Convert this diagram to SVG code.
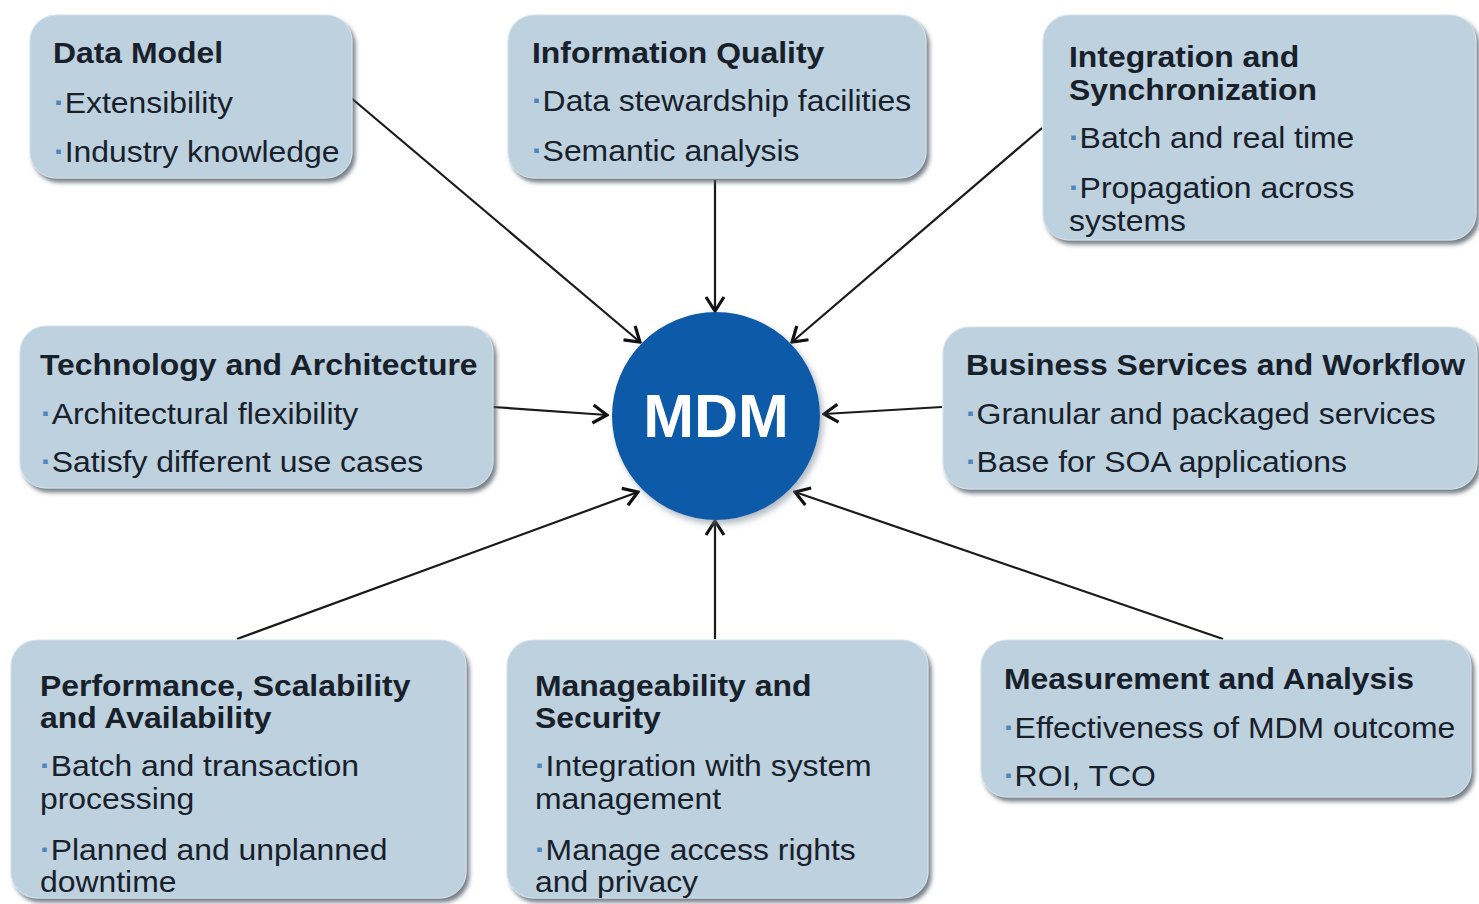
<svg xmlns="http://www.w3.org/2000/svg" width="1479" height="904" viewBox="0 0 1479 904">
  <defs>
    <filter id="shadow" x="-10%" y="-10%" width="125%" height="130%">
      <feDropShadow dx="3" dy="4" stdDeviation="2" flood-color="#4a5560" flood-opacity="0.75"/>
    </filter>
    <filter id="soft" x="-10%" y="-10%" width="130%" height="130%">
      <feDropShadow dx="3" dy="4" stdDeviation="3" flood-color="#7a8a9a" flood-opacity="0.6"/>
    </filter>
    <marker id="chev" markerUnits="userSpaceOnUse" viewBox="0 0 18 22" refX="16" refY="11" markerWidth="18" markerHeight="22" orient="auto">
      <path d="M2,2 L16,11 L2,20" fill="none" stroke="#111" stroke-width="3.2" stroke-linejoin="miter"/>
    </marker>
  </defs>
  <style>
    .box { fill: #bdd1df; stroke: #d6e3ec; stroke-width: 1; filter: url(#shadow); }
    .t { font-family: "Liberation Sans", Arial, sans-serif; font-size: 29px; fill: #18202a; }
    .h { font-weight: bold; }
    .b { fill: #4f86b8; font-weight: bold; }
    .conn { stroke: #1a1a1a; stroke-width: 2.2; fill: none; marker-end: url(#chev); }
    .mdm { font-family: "Liberation Sans", Arial, sans-serif; font-size: 61px; font-weight: bold; fill: #ffffff; }
  </style>
  <rect width="1479" height="904" fill="#ffffff"/>

  <!-- connectors: every feature box points at the hub -->
  <g id="connectors">
    <line class="conn" x1="350" y1="97" x2="640" y2="342"/>
    <line class="conn" x1="715" y1="180" x2="715" y2="311"/>
    <line class="conn" x1="1042" y1="128" x2="792" y2="342"/>
    <line class="conn" x1="493" y1="407" x2="607" y2="415"/>
    <line class="conn" x1="942" y1="407" x2="824" y2="414"/>
    <line class="conn" x1="237" y1="639" x2="638" y2="492"/>
    <line class="conn" x1="715" y1="639" x2="715" y2="521"/>
    <line class="conn" x1="1223" y1="639" x2="795" y2="492"/>
  </g>

  <!-- hub -->
  <g id="mdm">
    <circle cx="716" cy="416" r="104" fill="#0c5aa8" filter="url(#soft)"/>
    <text class="mdm" x="716" y="437" text-anchor="middle">MDM</text>
  </g>

  <g id="data-model">
    <rect class="box" x="30" y="15" width="322" height="163" rx="26"/>
    <g transform="matrix(1.1 0 0 1 -5.3 0)">
      <text class="t h" x="53" y="63">Data Model</text>
      <text class="t" x="54" y="113"><tspan class="b">·</tspan>Extensibility</text>
      <text class="t" x="54" y="162"><tspan class="b">·</tspan>Industry knowledge</text>
    </g>
  </g>

  <g id="information-quality">
    <rect class="box" x="508" y="15" width="418" height="163" rx="26"/>
    <g transform="matrix(1.1 0 0 1 -53.2 0)">
      <text class="t h" x="532" y="63">Information Quality</text>
      <text class="t" x="532" y="111"><tspan class="b">·</tspan>Data stewardship facilities</text>
      <text class="t" x="532" y="161"><tspan class="b">·</tspan>Semantic analysis</text>
    </g>
  </g>

  <g id="integration">
    <rect class="box" x="1043" y="15" width="433" height="225" rx="26"/>
    <g transform="matrix(1.1 0 0 1 -106.9 0)">
      <text class="t h" x="1069" y="67">Integration and</text>
      <text class="t h" x="1069" y="100">Synchronization</text>
      <text class="t" x="1069" y="148"><tspan class="b">·</tspan>Batch and real time</text>
      <text class="t" x="1069" y="198"><tspan class="b">·</tspan>Propagation across</text>
      <text class="t" x="1069" y="231">systems</text>
    </g>
  </g>

  <g id="technology">
    <rect class="box" x="20" y="326" width="473" height="162" rx="26"/>
    <g transform="matrix(1.1 0 0 1 -4 0)">
      <text class="t h" x="40" y="375">Technology and Architecture</text>
      <text class="t" x="41" y="424"><tspan class="b">·</tspan>Architectural flexibility</text>
      <text class="t" x="41" y="472"><tspan class="b">·</tspan>Satisfy different use cases</text>
    </g>
  </g>

  <g id="business-services">
    <rect class="box" x="943" y="327" width="534" height="162" rx="26"/>
    <g transform="matrix(1.1 0 0 1 -96.6 0)">
      <text class="t h" x="966" y="375">Business Services and Workflow</text>
      <text class="t" x="966" y="424"><tspan class="b">·</tspan>Granular and packaged services</text>
      <text class="t" x="966" y="472"><tspan class="b">·</tspan>Base for SOA applications</text>
    </g>
  </g>

  <g id="performance">
    <rect class="box" x="11" y="640" width="455" height="258" rx="26"/>
    <g transform="matrix(1.1 0 0 1 -4 0)">
      <text class="t h" x="40" y="696">Performance, Scalability</text>
      <text class="t h" x="40" y="728">and Availability</text>
      <text class="t" x="40" y="776"><tspan class="b">·</tspan>Batch and transaction</text>
      <text class="t" x="40" y="809">processing</text>
      <text class="t" x="40" y="860"><tspan class="b">·</tspan>Planned and unplanned</text>
      <text class="t" x="40" y="892">downtime</text>
    </g>
  </g>

  <g id="manageability">
    <rect class="box" x="507" y="640" width="421" height="258" rx="26"/>
    <g transform="matrix(1.1 0 0 1 -53.5 0)">
      <text class="t h" x="535" y="696">Manageability and</text>
      <text class="t h" x="535" y="728">Security</text>
      <text class="t" x="535" y="776"><tspan class="b">·</tspan>Integration with system</text>
      <text class="t" x="535" y="809">management</text>
      <text class="t" x="535" y="860"><tspan class="b">·</tspan>Manage access rights</text>
      <text class="t" x="535" y="892">and privacy</text>
    </g>
  </g>

  <g id="measurement">
    <rect class="box" x="981" y="640" width="490" height="157" rx="26"/>
    <g transform="matrix(1.1 0 0 1 -100.4 0)">
      <text class="t h" x="1004" y="689">Measurement and Analysis</text>
      <text class="t" x="1004" y="738"><tspan class="b">·</tspan>Effectiveness of MDM outcome</text>
      <text class="t" x="1004" y="786"><tspan class="b">·</tspan>ROI, TCO</text>
    </g>
  </g>
</svg>
